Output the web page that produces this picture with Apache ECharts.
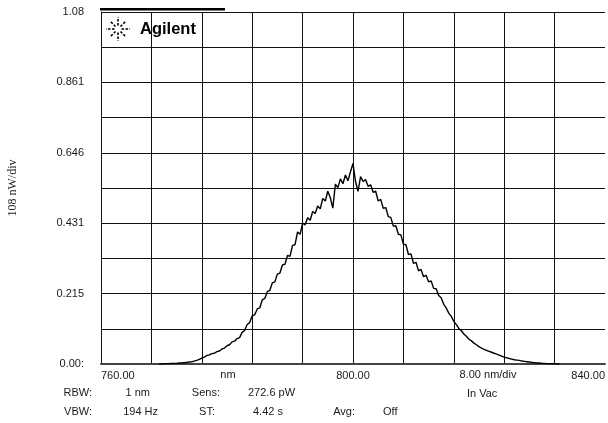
<!DOCTYPE html>
<html>
<head>
<meta charset="utf-8">
<script src="https://cdn.jsdelivr.net/npm/echarts@6/dist/echarts.min.js"></script>
<style>html,body{margin:0;padding:0;background:#fff}#c{width:608px;height:423px}</style>
</head>
<body>
<div id="c"></div>
<script>
// Wavelength samples (nm)
var wavelength = [
769.2,769.6,770.0,770.4,770.8,771.2,771.6,772.0,772.4,772.8,
773.2,773.6,774.0,774.4,774.8,775.2,775.6,776.0,776.4,776.8,
777.2,777.6,778.0,778.4,778.8,779.2,779.6,780.0,780.4,780.8,
781.2,781.6,782.0,782.4,782.8,783.2,783.6,784.0,784.4,784.8,
785.2,785.6,786.0,786.4,786.8,787.2,787.6,788.0,788.4,788.8,
789.2,789.6,790.0,790.4,790.8,791.2,791.6,792.0,792.4,792.8,
793.2,793.6,794.0,794.4,794.8,795.2,795.6,796.0,796.4,796.8,
797.2,797.6,798.0,798.4,798.8,799.2,799.6,800.0,800.4,800.8,
801.2,801.6,802.0,802.4,802.8,803.2,803.6,804.0,804.4,804.8,
805.2,805.6,806.0,806.4,806.8,807.2,807.6,808.0,808.4,808.8,
809.2,809.6,810.0,810.4,810.8,811.2,811.6,812.0,812.4,812.8,
813.2,813.6,814.0,814.4,814.8,815.2,815.6,816.0,816.4,816.8,
817.2,817.6,818.0,818.4,818.8,819.2,819.6,820.0,820.4,820.8,
821.2,821.6,822.0,822.4,822.8,823.2,823.6,824.0,824.4,824.8,
825.2,825.6,826.0,826.4,826.8,827.2,827.6,828.0,828.4,828.8,
829.2,829.6,830.0,830.4,830.8,831.2,831.6,832.0,832.4,832.8
];
// Power readings (uW scale of the 108 nW/div axis)
var power = [
0.000,0.000,0.001,0.001,0.001,0.002,0.002,0.002,0.003,0.003,
0.004,0.005,0.006,0.007,0.009,0.011,0.014,0.018,0.021,0.026,
0.028,0.032,0.033,0.038,0.040,0.046,0.049,0.056,0.059,0.068,
0.070,0.078,0.081,0.097,0.103,0.121,0.127,0.148,0.151,0.169,
0.172,0.197,0.201,0.222,0.226,0.249,0.252,0.276,0.279,0.304,
0.306,0.333,0.330,0.364,0.366,0.405,0.398,0.432,0.427,0.449,
0.441,0.468,0.462,0.485,0.476,0.508,0.500,0.530,0.510,0.478,
0.552,0.541,0.568,0.553,0.580,0.562,0.590,0.615,0.560,0.530,
0.575,0.560,0.566,0.545,0.550,0.527,0.530,0.500,0.505,0.478,
0.480,0.452,0.450,0.423,0.424,0.398,0.396,0.368,0.366,0.336,
0.338,0.309,0.312,0.286,0.290,0.268,0.272,0.252,0.255,0.232,
0.231,0.210,0.203,0.183,0.172,0.156,0.146,0.131,0.121,0.109,
0.102,0.092,0.085,0.076,0.071,0.064,0.059,0.053,0.049,0.045,
0.042,0.039,0.036,0.033,0.030,0.027,0.024,0.021,0.019,0.017,
0.015,0.013,0.012,0.011,0.009,0.008,0.007,0.006,0.005,0.004,
0.003,0.003,0.002,0.002,0.001,0.001,0.001,0.001,0.000,0.000
];
var xTickValues = [760, 800, 840];
var xTickLabels = ['760.00', '800.00', '840.00'];
var yTickValues = [0, 0.216, 0.432, 0.648, 0.864, 1.08];
var yTickLabels = ['0.00:', '0.215', '0.431', '0.646', '0.861', '1.08'];
var yUnitLabel = '108 nW/div';
var infoTexts = [
  ['RBW:', 'VBW:'], ['1 nm', '194 Hz'], ['Sens:', 'ST:'], ['272.6 pW', '4.42 s']
];

var pairs = wavelength.map(function (w, i) { return [w, power[i]]; });
var FONT = '"Liberation Sans", Arial, sans-serif';
var TXT = '#1a1a1a';

function near(a, b) { return Math.abs(a - b) < 1e-6; }

var chart = echarts.init(document.getElementById('c'), null, {renderer: 'canvas'});

// starburst logo rays
var logo = [];
var cx = 118, cy = 29;
for (var k = 0; k < 8; k++) {
  var ang = k * Math.PI / 4;
  var r1 = 3.5, r2 = (k % 2 === 0) ? 12 : 10;
  logo.push({
    type: 'line', silent: true, z: 20,
    shape: {x1: cx + r1 * Math.cos(ang), y1: cy + r1 * Math.sin(ang), x2: cx + r2 * Math.cos(ang), y2: cy + r2 * Math.sin(ang)},
    style: {stroke: '#000', lineWidth: 1.6, lineDash: [2.5, 1.5]}
  });
}

function txt(x, y, s, align) {
  return {type: 'text', x: x, y: y, silent: true, z: 20,
    style: {text: s, font: '11px ' + FONT, fill: TXT, textAlign: align || 'left', textVerticalAlign: 'middle'}};
}

var graphics = [
  {type: 'rect', shape: {x: 100, y: 8, width: 125, height: 2.5}, style: {fill: '#000'}, silent: true, z: 20},
  {type: 'text', x: 140, y: 29, silent: true, z: 20,
   style: {text: 'Agilent', font: 'bold 16.5px ' + FONT, fill: '#000', textAlign: 'left', textVerticalAlign: 'middle'}},
  {type: 'text', x: 13, y: 188, rotation: Math.PI / 2, silent: true, z: 20,
   style: {text: yUnitLabel, font: '12px "Liberation Serif", "Times New Roman", serif', fill: TXT, textAlign: 'center', textVerticalAlign: 'middle'}},
  txt(228, 375, 'nm', 'center'),
  txt(488, 375, '8.00 nm/div', 'center'),
  txt(92, 393, infoTexts[0][0], 'right'),
  txt(92, 412, infoTexts[0][1], 'right'),
  txt(150, 393, infoTexts[1][0], 'right'),
  txt(158, 412, infoTexts[1][1], 'right'),
  txt(220, 393, infoTexts[2][0], 'right'),
  txt(215, 412, infoTexts[2][1], 'right'),
  txt(248, 393, infoTexts[3][0], 'left'),
  txt(253, 412, infoTexts[3][1], 'left'),
  txt(467, 394, 'In Vac', 'left'),
  txt(355, 412, 'Avg:', 'right'),
  txt(383, 412, 'Off', 'left')
].concat(logo);

chart.setOption({
  animation: false,
  backgroundColor: '#fff',
  grid: {left: 101, top: 12, width: 507.5, height: 352, containLabel: false},
  xAxis: {
    type: 'value', min: 760, max: 840, interval: 8,
    axisLine: {show: true, onZero: false, lineStyle: {color: '#444', width: 2}},
    axisTick: {show: false},
    splitLine: {show: true, showMaxLine: false, lineStyle: {color: '#111', width: 1}},
    axisLabel: {
      show: true, margin: 6, fontSize: 11, fontFamily: FONT, color: TXT,
      alignMinLabel: 'left', alignMaxLabel: 'right',
      formatter: function (v) {
        for (var i = 0; i < xTickValues.length; i++) if (near(v, xTickValues[i])) return xTickLabels[i];
        return '';
      }
    }
  },
  yAxis: {
    type: 'value', min: 0, max: 1.08, interval: 0.108,
    axisLine: {show: true, lineStyle: {color: '#111', width: 1}},
    axisTick: {show: false},
    splitLine: {show: true, lineStyle: {color: '#111', width: 1}},
    axisLabel: {
      show: true, margin: 17, fontSize: 11, fontFamily: FONT, color: TXT,
      formatter: function (v) {
        for (var i = 0; i < yTickValues.length; i++) if (near(v, yTickValues[i])) return yTickLabels[i];
        return '';
      }
    }
  },
  series: [{
    type: 'line', data: pairs, showSymbol: false, symbol: 'none',
    lineStyle: {color: '#000', width: 1.4}, z: 10
  }],
  graphic: graphics
});
</script>
</body>
</html>
